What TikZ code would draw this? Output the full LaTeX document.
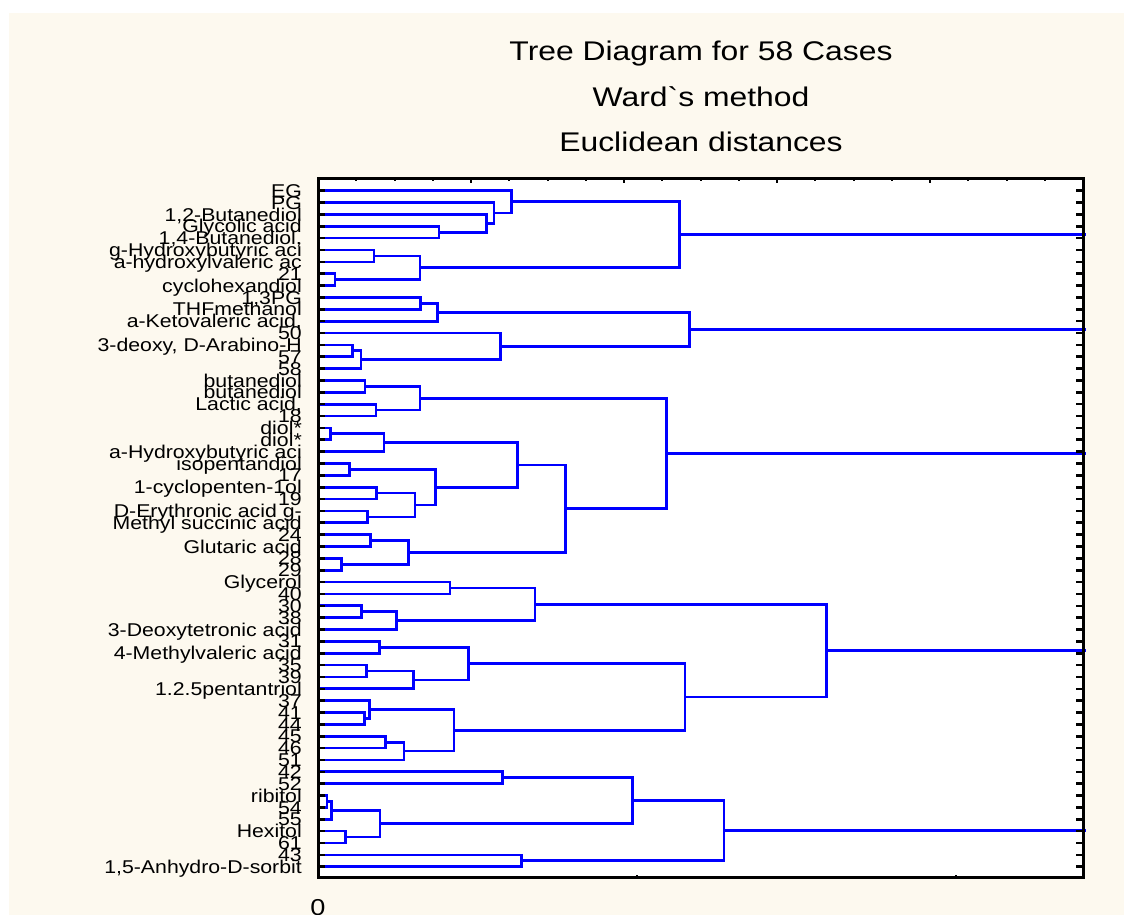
\documentclass[tikz,border=0pt]{standalone}
\usepackage{fontspec}
\usetikzlibrary{calc}
\newfontfamily\lblfamily[FakeStretch=1.15]{Liberation Sans}
\newfontfamily\ttlfamily[FakeStretch=1.18,Ligatures=TeXOff]{Liberation Sans}
\newcommand\lblfont{\lblfamily\fontsize{18.5}{18.5}\selectfont}
\newcommand\ttlfont{\ttlfamily\fontsize{27}{27}\selectfont}
\newcommand\zerofont{\ttlfamily\fontsize{23}{23}\selectfont}
\definecolor{cream}{RGB}{253,249,239}
\tikzset{
  br/.style={draw=blue, line width=2.7pt},
  tk/.style={draw=black, line width=2.6pt},
  lbl/.style={font=\lblfont, inner sep=0pt, anchor=base east},
  ttl/.style={font=\ttlfont, inner sep=0pt, anchor=base},
}
\newcommand\mrg[4]{%
  \path let \p1=(#3), \p2=(#4) in ({#2pt}, {0.5*\y1+0.5*\y2}) coordinate (#1);
  \draw[br] (#3) -| (#1) |- (#4);}
\newcommand\topline[1]{%
  \coordinate (e#1) at (1086,0 |- #1);
  \draw[br] (#1) -- (e#1);}
\begin{document}
\begin{tikzpicture}[x=1pt,y=-1pt]
\useasboundingbox (0,0) rectangle (1124,915);
\fill[white] (0,0) rectangle (1124,915);
\fill[cream] (9,13) rectangle (1124.5,915.5);
\fill[white] (318,178) rectangle (1083,877);
% titles
\node[ttl] (t1) at (701,61) {Tree Diagram for 58 Cases};
\node[ttl] (t2) at (701,106.7) {Ward`s method};
\node[ttl] (t3) at (701,151.7) {Euclidean distances};
\node[font=\zerofont, inner sep=0pt, anchor=base] (zero) at (318,915.5) {0};
% leaves and labels
\foreach \lab [count=\q] in {EG, PG, {1,2-Butanediol}, Glycolic acid, {1,4-Butanediol,},
  g-Hydroxybutyric aci, a-hydroxylvaleric ac, 21, cyclohexandiol, {1,3PG},
  THFmethanol, {a-Ketovaleric acid,}, 50, {3-deoxy, D-Arabino-H}, 57, 58,
  butanediol, butanediol, {Lactic acid,}, 18, diol*, diol*, a-Hydroxybutyric aci,
  isopentandiol, 17, 1-cyclopenten-1ol, 19, D-Erythronic acid g-, Methyl succinic acid,
  24, Glutaric acid, 28, 29, Glycerol, 40, 30, 38, 3-Deoxytetronic acid, 31,
  4-Methylvaleric acid, 35, 39, 1.2.5pentantriol, 37, 41, 44, 45, 46, 51, 42, 52,
  ribitol, 54, 55, Hexitol, 61, 43, {1,5-Anhydro-D-sorbit}} {
  \coordinate (l\q) at (318,{190.7+11.86*(\q-1)});
  \node[lbl] (n\q) at (302,{190.7+11.86*(\q-1)+6.6}) {\lab};
}
% cluster A
\mrg{a45}{439}{l4}{l5}
\mrg{a35}{486.7}{l3}{a45}
\mrg{a25}{494}{l2}{a35}
\mrg{a15}{511.7}{l1}{a25}
\mrg{a67}{374}{l6}{l7}
\mrg{a89}{335}{l8}{l9}
\mrg{a69}{420}{a67}{a89}
\mrg{A}{679.5}{a15}{a69}
% cluster B
\mrg{b1011}{420.7}{l10}{l11}
\mrg{b1012}{437.3}{b1011}{l12}
\mrg{b1415}{352.3}{l14}{l15}
\mrg{b1416}{361}{b1415}{l16}
\mrg{b1316}{500.7}{l13}{b1416}
\mrg{B}{689.3}{b1012}{b1316}
% cluster C
\mrg{c1718}{365}{l17}{l18}
\mrg{c1920}{376}{l19}{l20}
\mrg{c1720}{420}{c1718}{c1920}
\mrg{c2122}{330.7}{l21}{l22}
\mrg{c2123}{384}{c2122}{l23}
\mrg{c2425}{349.3}{l24}{l25}
\mrg{c2627}{376.7}{l26}{l27}
\mrg{c2829}{367.3}{l28}{l29}
\mrg{c2629}{415}{c2627}{c2829}
\mrg{c2429}{435.7}{c2425}{c2629}
\mrg{c2129}{517.4}{c2123}{c2429}
\mrg{c3031}{370.7}{l30}{l31}
\mrg{c3233}{341.7}{l32}{l33}
\mrg{c3033}{408.3}{c3031}{c3233}
\mrg{c2133}{565.7}{c2129}{c3033}
\mrg{C}{666.7}{c1720}{c2133}
% cluster D
\mrg{d3435}{450}{l34}{l35}
\mrg{d3637}{361.7}{l36}{l37}
\mrg{d3638}{396.7}{d3637}{l38}
\mrg{d3438}{535}{d3435}{d3638}
\mrg{d3940}{379.3}{l39}{l40}
\mrg{d4142}{366.7}{l41}{l42}
\mrg{d4143}{413.3}{d4142}{l43}
\mrg{d3943}{468.3}{d3940}{d4143}
\mrg{d4546}{364.3}{l45}{l46}
\mrg{d4446}{369.3}{l44}{d4546}
\mrg{d4748}{385.7}{l47}{l48}
\mrg{d4749}{404}{d4748}{l49}
\mrg{d4449}{454}{d4446}{d4749}
\mrg{d3949}{685}{d3943}{d4449}
\mrg{D}{826.7}{d3438}{d3949}
% cluster F
\mrg{f5051}{502.3}{l50}{l51}
\mrg{f5253}{327}{l52}{l53}
\mrg{f5254}{331.7}{f5253}{l54}
\mrg{f5556}{345.3}{l55}{l56}
\mrg{f5256}{380}{f5254}{f5556}
\mrg{f5056}{632.3}{f5051}{f5256}
\mrg{f5758}{521.7}{l57}{l58}
\mrg{F}{724}{f5056}{f5758}
% top-level lines
\topline{A}\topline{B}\topline{C}\topline{D}\topline{F}
% ticks
\foreach \q in {1,...,58} {
  \draw[tk] (l\q) -- ++(7,0);
  \draw[tk] (1083,0 |- l\q) -- ++(-7,0);
}
\foreach \k in {1,...,19} {
  \pgfmathsetmacro\len{ifthenelse(mod(\k,4)==0,5,2.5)}
  \draw[line width=2pt] ({318+38.25*\k},178) -- ++(0,\len);
}
\draw[line width=2pt] (637,877) -- ++(0,-2.5);
\draw[line width=2pt] (956,877) -- ++(0,-2.5);
% frame
\draw[line width=3pt] (318,178) rectangle (1083,877);
\end{tikzpicture}
\end{document}
